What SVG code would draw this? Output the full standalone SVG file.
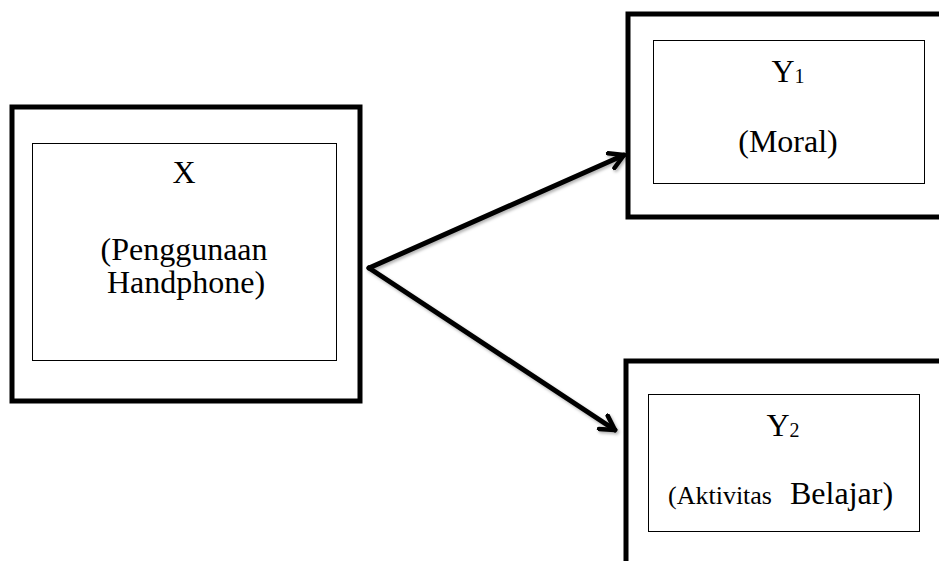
<svg xmlns="http://www.w3.org/2000/svg" width="939" height="561" viewBox="0 0 939 561">
<style>
.outer{fill:#fff;stroke:#000;stroke-width:5}
.inner{fill:#fff;stroke:#000;stroke-width:1}
.t{font-family:"Liberation Serif","Times New Roman",serif;fill:#000;text-anchor:middle}
.ts{text-anchor:start}
.big{font-size:32px}
.sub{font-size:20px}
.small{font-size:26px}
.conn{fill:none;stroke:#000;stroke-width:5;stroke-linecap:round;stroke-linejoin:round}
</style>
<defs>
<filter id="sh" x="-10%" y="-10%" width="130%" height="130%">
<feDropShadow dx="1.5" dy="2" stdDeviation="1.5" flood-color="#000" flood-opacity="0.3"/>
</filter>
<marker id="arr" viewBox="-16 -10 18 20" markerWidth="18" markerHeight="20" refX="0" refY="0" orient="auto" markerUnits="userSpaceOnUse">
<path d="M-14,-8 L0,0 L-14,8" fill="none" stroke="#000" stroke-width="4.5" stroke-linecap="round" stroke-linejoin="round"/>
</marker>
</defs>
<g id="node-x">
<rect class="outer" x="12" y="107" width="348" height="294"/>
<rect class="inner" x="32.5" y="143.5" width="304" height="217"/>
<text class="t big" x="184" y="183">X</text>
<text class="t big" x="184" y="260">(Penggunaan</text>
<text class="t big" x="186" y="293">Handphone)</text>
</g>
<g id="node-y1">
<rect class="outer" x="628" y="14" width="320" height="203"/>
<rect class="inner" x="653.5" y="40.5" width="271" height="143"/>
<text class="t big" x="788" y="82">Y<tspan class="sub" dy="1">1</tspan></text>
<text class="t big" x="788" y="152">(Moral)</text>
</g>
<g id="node-y2">
<rect class="outer" x="626" y="361" width="320" height="220"/>
<rect class="inner" x="648.5" y="394.5" width="271" height="137"/>
<text class="t big" x="783" y="436">Y<tspan class="sub" dy="1">2</tspan></text>
<text class="t ts small" x="668" y="504">(Aktivitas</text>
<text class="t ts big" x="790" y="504">Belajar)</text>
</g>
<g id="connectors" filter="url(#sh)">
<path class="conn" d="M369,268 L624,155" marker-end="url(#arr)"/>
<path class="conn" d="M369,268 L615,430" marker-end="url(#arr)"/>
</g>
</svg>
